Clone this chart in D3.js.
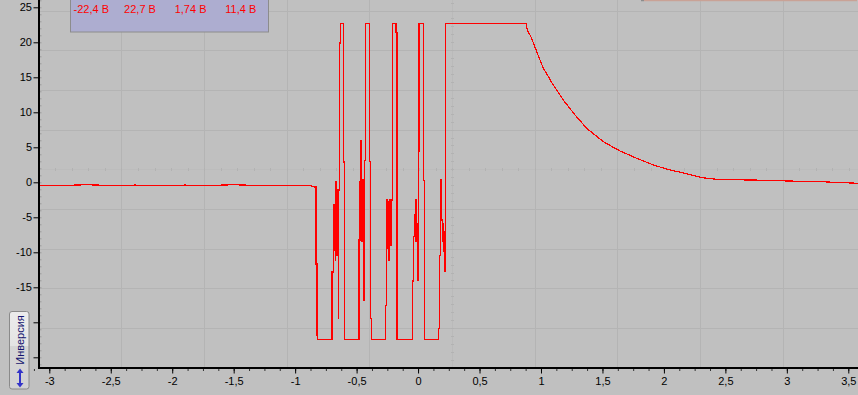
<!DOCTYPE html>
<html>
<head>
<meta charset="utf-8">
<script src="https://cdn.jsdelivr.net/npm/d3@7"></script>
<style>
  html, body { margin: 0; padding: 0; background: #c0c0c0; }
  svg { display: block; font-family: "Liberation Sans", Arial, sans-serif; }
</style>
</head>
<body>
<div id="scope"></div>
<script>
// values (time in ms, voltage in V)
var xTicks = [-3, -2.5, -2, -1.5, -1, -0.5, 0, 0.5, 1, 1.5, 2, 2.5, 3, 3.5];
var yTicks = [-25, -20, -15, -10, -5, 0, 5, 10, 15, 20, 25];
var yLabelled = [-15, -10, -5, 0, 5, 10, 15, 20, 25];
var legendValues = ["-22,4 В", "22,7 В", "1,74 В", "11,4 В"];

// flat part before the burst
var baseline = [
  [-3.085, -0.40], [-2.90, -0.45], [-2.70, -0.35], [-2.50, -0.45], [-2.30, -0.40],
  [-2.10, -0.50], [-1.90, -0.40], [-1.70, -0.45], [-1.50, -0.35], [-1.30, -0.45],
  [-1.10, -0.40], [-0.88, -0.40], [-0.847, -0.67]
];

// sampled burst, each value holds until the next sample
var pulses = [
  [-0.847, -0.67], [-0.831, -11.67], [-0.823, -21.8], [-0.815, -22.4],
  [-0.701, -12.81], [-0.690, -3.24], [-0.684, -9.67], [-0.679, -4.61], [-0.674, -11.1],
  [-0.670, 0.09], [-0.666, -6.81], [-0.662, -10.39], [-0.657, -1.1], [-0.654, -7.96],
  [-0.649, -19.39], [-0.646, -1.1], [-0.638, 19.9], [-0.630, 22.7], [-0.609, 2.9],
  [-0.600, -22.4],
  [-0.481, -8.24], [-0.473, 0.09], [-0.470, -3.71], [-0.465, 5.9], [-0.462, -4.2],
  [-0.459, -8.49], [-0.454, 0.33], [-0.448, -4.2], [-0.446, 0.33], [-0.440, -16.81],
  [-0.435, 3.09], [-0.430, 22.7], [-0.397, 2.94], [-0.389, -19.43], [-0.381, -22.4],
  [-0.267, -17.63], [-0.259, -7.77], [-0.253, -2.53], [-0.247, -9.43], [-0.243, -2.77],
  [-0.237, -11.1], [-0.231, -2.53], [-0.226, -8.96], [-0.221, -2.77], [-0.215, -2.53],
  [-0.210, 22.7], [-0.180, 21.37], [-0.172, -22.4],
  [-0.047, -14.1], [-0.039, -7.77], [-0.031, -4.67], [-0.023, -2.53], [-0.017, -8.49],
  [-0.011, -5.86], [-0.007, -10.14], [-0.001, -13.96], [0.002, 4.47], [0.007, 22.7],
  [0.042, 0.23], [0.050, -22.4],
  [0.168, -20.86], [0.176, -10.49], [0.181, -0.14], [0.186, 0.33], [0.192, -5.39],
  [0.197, -8.49], [0.203, -5.86], [0.208, -9.91], [0.213, -12.77], [0.219, -7.06],
  [0.221, 22.7], [0.878, 22.7]
];

// discharge after the last pulse
var decay = [
  [0.878, 22.7], [0.889, 21.76], [0.924, 20.57], [0.965, 18.66], [1.019, 16.29],
  [1.100, 13.9], [1.181, 11.76], [1.277, 9.61], [1.372, 7.71], [1.507, 5.8],
  [1.643, 4.47], [1.779, 3.43], [1.914, 2.47], [2.050, 1.76], [2.186, 1.23],
  [2.308, 0.66], [2.456, 0.37], [2.727, 0.33], [2.999, 0.19], [3.270, 0.09],
  [3.579, -0.14]
];

var width = 858, height = 395;
var loc = d3.formatLocale({decimal: ",", thousands: " ", grouping: [3], currency: ["", ""], minus: "-"});
var fmt = loc.format(".1~f");

var svg = d3.select("#scope").append("svg")
  .attr("width", width)
  .attr("height", height);

svg.append("rect").attr("width", width).attr("height", height).attr("fill", "#c0c0c0");

var x = d3.scaleLinear().domain([-3, 3.5]).range([49.3, 848.3]);
var y = d3.scaleLinear().domain([-25, 25]).range([357.3, 7.3]);

// screen graticule, 10 x 10 divisions (partly off screen)
var gx = d3.scaleLinear().domain([0, 10]).range([39.3, 866]);
var gy = d3.scaleLinear().domain([0, 10]).range([368.3, -28.7]);

var grid = svg.append("g").attr("shape-rendering", "crispEdges");
grid.selectAll(".vg").data([1, 2, 3, 4, 6, 7, 8, 9]).enter().append("line")
  .attr("x1", gx).attr("x2", gx).attr("y1", 0).attr("y2", 367)
  .attr("stroke", "#b4b4b4");
grid.selectAll(".hg").data([1, 2, 3, 4, 6, 7, 8, 9]).enter().append("line")
  .attr("y1", gy).attr("y2", gy).attr("x1", 40).attr("x2", width)
  .attr("stroke", "#b4b4b4");

// centre cross with small marks every 1/5 division
grid.append("line").attr("x1", gx(5)).attr("x2", gx(5)).attr("y1", 0).attr("y2", 367)
  .attr("stroke", "#bababa");
grid.append("line").attr("y1", gy(5)).attr("y2", gy(5)).attr("x1", 40).attr("x2", width)
  .attr("stroke", "#bcbcbc");
var fifths = d3.range(0, 50.1, 1).map(function(d) { return d / 5; });
grid.selectAll(".cx").data(fifths).enter().append("line")
  .attr("x1", gx).attr("x2", gx)
  .attr("y1", gy(5) - 1.5).attr("y2", gy(5) + 1.5)
  .attr("stroke", "#b2b2b2");
grid.selectAll(".cy").data(fifths).enter().append("line")
  .attr("y1", gy).attr("y2", gy)
  .attr("x1", gx(5) - 1.5).attr("x2", gx(5) + 1.5)
  .attr("stroke", "#b2b2b2");

// trace
var plot = svg.append("g")
  .attr("fill", "none")
  .attr("stroke", "#ff0000")
  .attr("stroke-width", 1.2)
  .attr("shape-rendering", "crispEdges");

var lineLinear = d3.line().x(function(d) { return x(d[0]); }).y(function(d) { return y(d[1]); });
var lineStep = d3.line().x(function(d) { return x(d[0]); }).y(function(d) { return y(d[1]); })
  .curve(d3.curveStepAfter);

plot.append("path").attr("d", lineLinear(baseline));
plot.append("path").attr("d", lineStep(pulses));
plot.append("path").attr("d", lineLinear(decay));

// axes
var xMinor = d3.range(-3.125, 3.6, 0.125);
svg.append("g")
  .attr("transform", "translate(0,369)")
  .call(d3.axisBottom(x).tickValues(xMinor).tickSize(2).tickFormat(""))
  .call(function(g) { g.select(".domain").remove(); g.selectAll("line").attr("stroke", "#333"); });

var xAxis = svg.append("g")
  .attr("transform", "translate(0,369)")
  .call(d3.axisBottom(x).tickValues(xTicks).tickSize(4.5).tickPadding(4).tickFormat(fmt));
xAxis.select(".domain").remove();
xAxis.selectAll("text").attr("font-size", 11).attr("fill", "#000").attr("font-family", null);
xAxis.selectAll("line").attr("stroke", "#000");

var yMinor = d3.range(-26, 27, 1);
svg.append("g")
  .attr("transform", "translate(40,0)")
  .call(d3.axisRight(y).tickValues(yMinor).tickSize(1.5).tickFormat(""))
  .call(function(g) { g.select(".domain").remove(); g.selectAll("line").attr("stroke", "#9c9c9c"); });

var yAxis = svg.append("g")
  .attr("transform", "translate(38,0)")
  .call(d3.axisLeft(y).tickValues(yTicks).tickSize(4.5).tickPadding(1.5)
    .tickFormat(function(d) { return yLabelled.indexOf(d) >= 0 ? fmt(d) : ""; }));
yAxis.select(".domain").remove();
yAxis.selectAll("text").attr("font-size", 11).attr("fill", "#000").attr("font-family", null);
yAxis.selectAll("line").attr("stroke", "#000");

// thick axis lines
svg.append("rect").attr("x", 38).attr("y", 0).attr("width", 2).attr("height", 369).attr("fill", "#000");
svg.append("rect").attr("x", 38).attr("y", 367).attr("width", width - 38).attr("height", 2).attr("fill", "#000");

// measurement box top left
var legend = svg.append("g");
legend.append("rect")
  .attr("x", 70.5).attr("y", -5).attr("width", 198).attr("height", 37)
  .attr("fill", "#adadd0").attr("stroke", "#8c8c8c");
legend.selectAll("text").data(legendValues).enter().append("text")
  .attr("x", function(d, i) { return 73.5 + i * 50.6; })
  .attr("y", 13)
  .attr("font-size", 11)
  .attr("fill", "#ff0000")
  .text(function(d) { return d; });

// edge of the panel top right
svg.append("line").attr("x1", 641).attr("x2", 644).attr("y1", 0.5).attr("y2", 0.5)
  .attr("stroke", "#8c8c8c").attr("stroke-width", 1.5);
svg.append("line").attr("x1", 644).attr("x2", 857).attr("y1", 0.5).attr("y2", 0.5)
  .attr("stroke", "#c9a296").attr("stroke-width", 1.5);

// "Инверсия" button
var defs = svg.append("defs");
var grad = defs.append("linearGradient").attr("id", "btn").attr("x1", 0).attr("x2", 0).attr("y1", 0).attr("y2", 1);
grad.append("stop").attr("offset", "0%").attr("stop-color", "#ececec");
grad.append("stop").attr("offset", "44%").attr("stop-color", "#e4e4e4");
grad.append("stop").attr("offset", "45%").attr("stop-color", "#d6d6d6");
grad.append("stop").attr("offset", "100%").attr("stop-color", "#d2d2d2");

var btn = svg.append("g");
btn.append("rect")
  .attr("x", 9.5).attr("y", 311.5).attr("width", 19.5).attr("height", 77.5).attr("rx", 2.5)
  .attr("fill", "url(#btn)").attr("stroke", "#8a8a8a");
btn.append("text")
  .attr("transform", "translate(23.5,340) rotate(-90)")
  .attr("text-anchor", "middle")
  .attr("font-size", 11)
  .attr("fill", "#14146e")
  .text("Инверсия");
btn.append("line").attr("x1", 20).attr("x2", 20).attr("y1", 372).attr("y2", 384)
  .attr("stroke", "#3434c8").attr("stroke-width", 2);
btn.append("path").attr("d", "M16.5,373 L20,368.5 L23.5,373 Z").attr("fill", "#3434c8");
btn.append("path").attr("d", "M16.5,383 L20,387.5 L23.5,383 Z").attr("fill", "#3434c8");
</script>
</body>
</html>
